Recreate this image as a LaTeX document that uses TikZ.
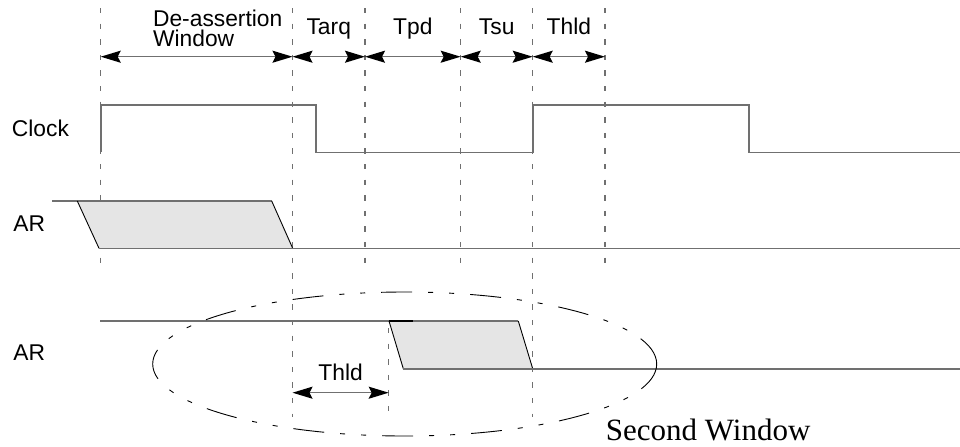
\documentclass[tikz,border=0pt]{standalone}
\usepackage{fontspec}
\setmainfont{Liberation Serif}
\setsansfont{Liberation Sans}
\usetikzlibrary{arrows.meta, positioning, calc}

\definecolor{wavegray}{RGB}{112,112,112}
\definecolor{shadegray}{RGB}{229,229,229}

\tikzset{
  sig/.style={draw=wavegray, line width=0.8pt},
  slant/.style={draw=black, line width=0.45pt},
  guide/.style={draw=wavegray, line width=0.65pt, dash pattern=on 2.7pt off 5.1pt},
  span/.style={draw=wavegray, line width=0.75pt,
    {Stealth[length=10pt,width=6pt,inset=1.5pt,color=black]}-{Stealth[length=10pt,width=6pt,inset=1.5pt,color=black]}},
  window/.style={draw=black, line width=0.45pt,
    dash pattern=on 15.5pt off 8pt on 2.5pt off 8pt on 2.5pt off 8pt},
  lbl/.style={font=\sffamily\fontsize{11.4}{10}\selectfont, inner sep=0pt, text depth=0pt},
}

\begin{document}
\begin{tikzpicture}[x=0.5pt, y=-0.5pt]
\useasboundingbox (0,0) rectangle (960,446);

% time marks
\foreach \n/\x/\y in {a/100.7/272, b/292.5/417, c/365/272, d/460.7/272, e/532.7/417, f/605/272} {
  \coordinate (\n-top) at (\x,8);
  \coordinate (\n-bot) at (\x,\y);
  \coordinate (\n-arr) at (\x,56.7);
  \draw[guide] (\n-top) -- (\n-bot);
}
\coordinate (g-top) at (388.7,328);
\coordinate (g-bot) at (388.7,417);
\draw[guide] (g-top) -- (g-bot);

% intervals
\draw[span] (a-arr) -- (b-arr);
\node[lbl, align=left, anchor=base west] (daw) at (152.7,46.7) {De-assertion\\Window};
\draw[span] (b-arr) -- node[lbl, above=10.85pt] (tarq) {Tarq} (c-arr);
\draw[span] (c-arr) -- node[lbl, above=10.85pt] (tpd) {Tpd} (d-arr);
\draw[span] (d-arr) -- node[lbl, above=10.85pt] (tsu) {Tsu} (e-arr);
\draw[span] (e-arr) -- node[lbl, above=10.85pt] (thld) {Thld} (f-arr);

% clock
\node[lbl, anchor=base west] (clk) at (11.5,136.7) {Clock};
\draw[sig] (100.7,152.3) |- (316,104.7) |- (532.7,152.3) |- (749,104.7) |- (960,152.3);

% first AR
\node[lbl, anchor=base west] (ar1) at (13,231.7) {AR};
\coordinate (p1a) at (77.3,201);
\coordinate (p1b) at (271.7,201);
\coordinate (p1c) at (292.7,248.3);
\coordinate (p1d) at (99,248.3);
\fill[shadegray] (p1a) -- (p1b) -- (p1c) -- (p1d) -- cycle;
\draw[sig] (52.3,201) -- (p1a) -- (p1b);
\draw[slant] (p1b) -- (p1c);
\draw[slant] (p1a) -- (p1d);
\draw[sig] (p1d) -- (p1c) -- (960,248.3);

% second AR
\node[lbl, anchor=base west] (ar2) at (13,360) {AR};
\coordinate (p2a) at (389,321);
\coordinate (p2b) at (518.3,321);
\coordinate (p2c) at (532.7,368.7);
\coordinate (p2d) at (403.3,368.7);
\fill[shadegray] (p2a) -- (p2b) -- (p2c) -- (p2d) -- cycle;
\draw[sig] (100,321) -- (p2a) -- (p2b);
\draw[slant, line width=0.9pt] (p2a) -- ++(24,0);
\draw[slant] (p2b) -- (p2c);
\draw[slant] (p2a) -- (p2d);
\draw[sig] (p2d) -- (p2c) -- (960,368.7);

% hold time
\coordinate (b-low) at (292.5,392.7);
\coordinate (g-low) at (388.7,392.7);
\draw[span] (b-low) -- node[lbl, above=5.85pt] (thld2) {Thld} (g-low);

% second window
\draw[window] (404.7,364) ellipse [x radius=126pt, y radius=36pt];
\node[anchor=base west, inner sep=0pt, font=\fontsize{15.5}{18}\selectfont] (win) at (605.5,440) {Second Window};
\end{tikzpicture}
\end{document}
